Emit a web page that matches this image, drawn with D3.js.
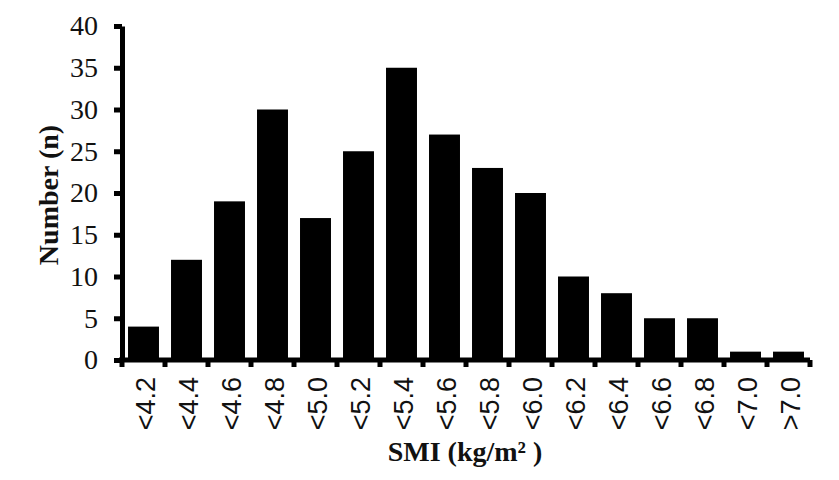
<!DOCTYPE html>
<html><head><meta charset="utf-8">
<script src="https://cdn.jsdelivr.net/npm/d3@7"></script>
<style>body{margin:0;background:#fff}</style>
</head><body>
<svg id="c" width="839" height="480"></svg>
<script>
const categories = ["<4.2","<4.4","<4.6","<4.8","<5.0","<5.2","<5.4","<5.6","<5.8","<6.0","<6.2","<6.4","<6.6","<6.8","<7.0",">7.0"];
const counts = [4,12,19,30,17,25,35,27,23,20,10,8,5,5,1,1];
const yTicks = [0,5,10,15,20,25,30,35,40];
const xTitle = "SMI (kg/m² )";
const yTitle = "Number (n)";

(function(){
const svg = d3.select("#c");
const mLeft = 122, mRight = 810, mTop = 26, mBottom = 360;
const x = d3.scaleBand().domain(categories).range([mLeft, mRight]).paddingInner(0.28).paddingOuter(0.14);
const y = d3.scaleLinear().domain([0, 40]).range([mBottom, mTop]);

// bars
svg.append("g").selectAll("rect").data(counts).join("rect")
  .attr("x", (d,i) => x(categories[i]))
  .attr("width", x.bandwidth())
  .attr("y", d => y(d))
  .attr("height", d => y(0) - y(d))
  .attr("fill", "#000");

// y axis
const ya = svg.append("g").attr("transform", `translate(${mLeft},0)`)
  .call(d3.axisLeft(y).tickValues(yTicks).tickSize(8).tickPadding(16).tickSizeOuter(0));
ya.select(".domain").attr("stroke", "#000").attr("stroke-width", 5);
ya.selectAll(".tick line").attr("stroke", "#000").attr("stroke-width", 5);
ya.selectAll(".tick text").attr("font-family", "'Liberation Serif', 'Times New Roman', serif")
  .attr("font-size", 28).attr("fill", "#111");

// x axis line
svg.append("line").attr("x1", mLeft - 3).attr("x2", mRight).attr("y1", mBottom).attr("y2", mBottom)
  .attr("stroke", "#000").attr("stroke-width", 5);
// boundary ticks
const step = x.step();
const boundaries = d3.range(categories.length + 1).map(i => x(categories[0]) - x.paddingOuter() * step + i * step);
svg.append("g").selectAll("line").data(boundaries).join("line")
  .attr("x1", d => d).attr("x2", d => d)
  .attr("y1", mBottom).attr("y2", mBottom + 7)
  .attr("stroke", "#000").attr("stroke-width", 5);

// x tick labels
const xa = svg.append("g").attr("transform", `translate(0,${mBottom})`)
  .call(d3.axisBottom(x).tickSize(0).tickPadding(0));
xa.select(".domain").remove();
xa.selectAll(".tick text")
  .attr("font-family", "'Liberation Sans', Arial, sans-serif")
  .attr("font-size", 27).attr("fill", "#111")
  .attr("text-anchor", "end")
  .attr("transform", "rotate(-90)")
  .attr("x", -17).attr("y", 2).attr("dy", "0.35em");

// titles
svg.append("text").attr("x", 465).attr("y", 461).attr("text-anchor", "middle")
  .attr("font-family", "'Liberation Serif', 'Times New Roman', serif")
  .attr("font-weight", "bold").attr("font-size", 28).attr("fill", "#111").text(xTitle);
svg.append("text").attr("transform", "translate(58,195) rotate(-90)").attr("text-anchor", "middle")
  .attr("font-family", "'Liberation Serif', 'Times New Roman', serif")
  .attr("font-weight", "bold").attr("font-size", 28).attr("fill", "#111").text(yTitle);
})();
</script>
</body></html>
